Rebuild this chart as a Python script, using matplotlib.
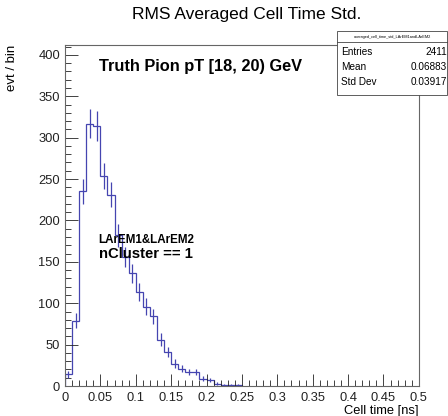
import numpy as np
import matplotlib
matplotlib.use('Agg')
import matplotlib.pyplot as plt
from matplotlib.patches import Rectangle
from matplotlib.ticker import MultipleLocator

plt.rcParams['font.family'] = ['Liberation Sans', 'DejaVu Sans']

# histogram of cell time std, bin width 0.01 ns
bin_edges = [0.00, 0.01, 0.02, 0.03, 0.04, 0.05, 0.06, 0.07, 0.08, 0.09,
             0.10, 0.11, 0.12, 0.13, 0.14, 0.15, 0.16, 0.17, 0.18, 0.19,
             0.20, 0.21, 0.22, 0.23, 0.24, 0.25]
counts = [14, 79, 235, 317, 314, 254, 231, 182, 156, 136,
          114, 96, 84, 56, 41, 27, 21, 17, 17, 9,
          7, 3, 1, 1, 1]

stats_name = 'averaged_cell_time_std_LArEM1andLArEM2'
stats_rows = [('Entries', '2411'), ('Mean', '0.06883'), ('Std Dev', '0.03917')]

line_col = '#4545b0'

fig = plt.figure(figsize=(4.48, 4.16), dpi=100)
ax = fig.add_axes([0.145, 0.072, 0.79, 0.82])

edges = np.array(bin_edges)
vals = np.array(counts, dtype=float)
centers = 0.5 * (edges[:-1] + edges[1:])
ax.stairs(vals, edges, color=line_col, lw=0.9)
err = np.sqrt(vals)
ax.vlines(centers, vals - err, vals + err, color=line_col, lw=0.9)

ax.set_xlim(0, 0.5)
ax.set_ylim(0, 412)
ax.xaxis.set_minor_locator(MultipleLocator(0.01))
ax.yaxis.set_major_locator(MultipleLocator(50))
ax.yaxis.set_minor_locator(MultipleLocator(10))
xt = np.arange(0, 0.501, 0.05)
ax.set_xticks(xt)
ax.set_xticklabels(['0' if v == 0 else '%g' % round(v, 2) for v in xt])
ax.tick_params(which='both', direction='in', top=False, right=False,
               labelsize=9.3, colors='#222222', width=0.6)
ax.tick_params(which='major', length=9)
ax.tick_params(which='minor', length=4.5)
ax.tick_params(axis='x', pad=4)
for sp in ax.spines.values():
    sp.set_color('#666666')
    sp.set_linewidth(0.8)

ax.set_xlabel('Cell time [ns]', fontsize=9.3, loc='right', labelpad=1)
ax.set_ylabel('evt / bin', fontsize=9.5, loc='top', labelpad=15)

fig.text(0.55, 0.965, 'RMS Averaged Cell Time Std.', ha='center', va='center',
         fontsize=12.5)

ax.text(0.095, 0.96, 'Truth Pion pT [18, 20) GeV', transform=ax.transAxes,
        fontsize=11.8, fontweight='bold', va='top', ha='left')
ax.text(0.095, 0.428, 'LArEM1&LArEM2', transform=ax.transAxes,
        fontsize=8.4, fontweight='bold', va='center', ha='left')
ax.text(0.095, 0.386, 'nCluster == 1', transform=ax.transAxes,
        fontsize=10.7, fontweight='bold', va='center', ha='left')

# stats box
bx0, bx1 = 0.752, 0.998
by0, by1 = 0.772, 0.925
fig.patches.append(Rectangle((bx0, by0), bx1 - bx0, by1 - by0, transform=fig.transFigure,
                             facecolor='white', edgecolor='#444444', lw=0.6, zorder=5))
fig.add_artist(plt.Line2D([bx0, bx1], [0.899, 0.899], transform=fig.transFigure,
                          color='#444444', lw=0.6, zorder=6))
fig.text(0.5 * (bx0 + bx1), 0.912, stats_name, ha='center', va='center',
         fontsize=2.8, zorder=7)
row_y = [0.876, 0.840, 0.804]
for (k, v), yy in zip(stats_rows, row_y):
    fig.text(0.762, yy, k, ha='left', va='center', fontsize=7.2, zorder=7)
    fig.text(0.998, yy, v, ha='right', va='center', fontsize=7.2, zorder=7)

fig.savefig('out.png', dpi=100)
